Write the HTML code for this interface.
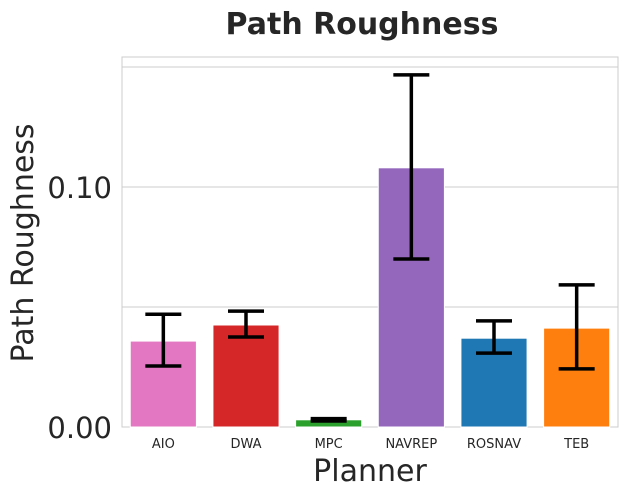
<!DOCTYPE html>
<html><head><meta charset="utf-8"><style>
body{margin:0;background:#fff;}
svg text{font-family:"DejaVu Sans","Liberation Sans",sans-serif;}
</style></head><body>
<svg id="chart" width="628" height="495">
<text x="362" y="34" text-anchor="middle" font-size="30" font-weight="bold" fill="#262626">Path Roughness</text>
<rect x="122" y="57" width="496" height="370" fill="#fff" stroke="#ccc" stroke-width="1"/>
<g id="grid"></g><g id="bars"></g><g id="errs"></g><g id="xt"></g><g id="yt"></g>
<text x="370" y="481" text-anchor="middle" font-size="30" fill="#262626">Planner</text>
<text transform="translate(33,243) rotate(-90)" text-anchor="middle" font-size="30" fill="#262626">Path Roughness</text>
</svg>
<script>
const categories=["AIO","DWA","MPC","NAVREP","ROSNAV","TEB"];
const values=[0.0358,0.0425,0.003,0.108,0.037,0.0412];
const errLow=[0.0254,0.0375,0.0025,0.070,0.0308,0.0242];
const errHigh=[0.047,0.0483,0.0035,0.1467,0.0442,0.0592];
const colors=["#e377c2","#d62728","#2ca02c","#9467bd","#1f77b4","#ff7f0e"];
const gridVals=[0.05,0.1,0.15];
const tickVals=[0,0.1];
const tickLabels=["0.00","0.10"];
const NS="http://www.w3.org/2000/svg";
const x0=122,pw=496,y0=427,k=2400;
const y=v=>y0-v*k;
const band=pw/categories.length;
const xc=i=>x0+band*(i+0.5);
function mk(t,a,p){const e=document.createElementNS(NS,t);for(const n in a)e.setAttribute(n,a[n]);document.getElementById(p).appendChild(e);return e;}
gridVals.forEach(v=>{const l=mk("line",{x1:x0,x2:x0+pw,y1:y(v),y2:y(v),stroke:"#ccc","stroke-width":1},"grid");

});
categories.forEach((c,i)=>{
const w=band*0.8;
const r=mk("rect",{x:xc(i)-w/2,y:y(values[i]),width:w,height:values[i]*k,fill:colors[i],stroke:"#fff","stroke-width":1},"bars");


const g=mk("g",{stroke:"#000","stroke-width":3.5,"stroke-linecap":"butt"},"errs");


[[xc(i),y(errLow[i]),xc(i),y(errHigh[i])],[xc(i)-18,y(errLow[i]),xc(i)+18,y(errLow[i])],[xc(i)-18,y(errHigh[i]),xc(i)+18,y(errHigh[i])]].forEach(p=>{
const l=document.createElementNS(NS,"line");l.setAttribute("x1",p[0]);l.setAttribute("y1",p[1]);l.setAttribute("x2",p[2]);l.setAttribute("y2",p[3]);g.appendChild(l);});
const t=mk("text",{x:xc(i),y:448,"text-anchor":"middle","font-size":13,fill:"#262626"},"xt");
t.textContent=c;


});
tickVals.forEach((v,i)=>{const t=mk("text",{x:112,y:y(v)+11,"text-anchor":"end","font-size":29,fill:"#262626"},"yt");
t.textContent=tickLabels[i];

});
</script>
</body></html>
